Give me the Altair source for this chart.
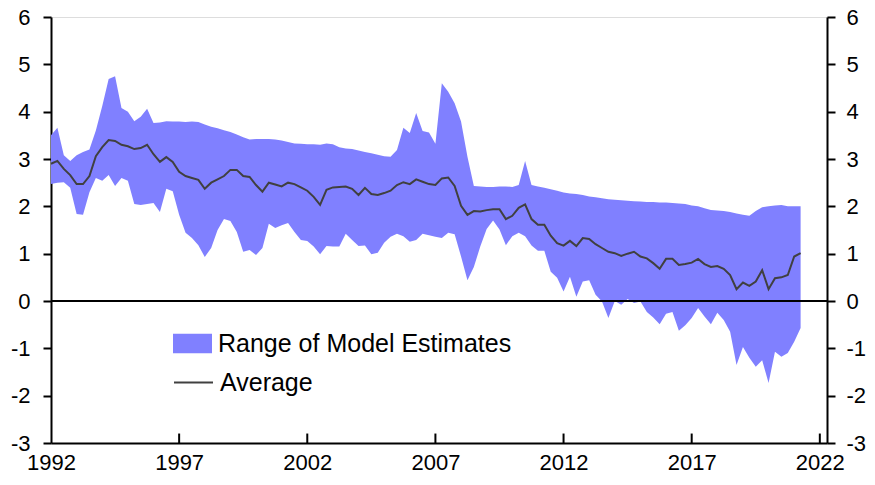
import altair as alt
import pandas as pd

start_year = 1992.0
step = 0.25

upper = [3.5, 3.66, 3.08, 2.96, 3.08, 3.15, 3.2, 3.6, 4.12, 4.69,
         4.75, 4.08, 4.0, 3.8, 3.89, 4.06, 3.76, 3.77, 3.8, 3.79,
         3.79, 3.78, 3.79, 3.78, 3.73, 3.68, 3.65, 3.61, 3.57, 3.52,
         3.46, 3.41, 3.42, 3.42, 3.42, 3.41, 3.39, 3.36, 3.33, 3.32,
         3.31, 3.31, 3.3, 3.33, 3.31, 3.25, 3.22, 3.21, 3.18, 3.15,
         3.12, 3.09, 3.06, 3.05, 3.19, 3.66, 3.55, 3.97, 3.59, 3.56,
         3.32, 4.6, 4.42, 4.18, 3.79, 3.05, 2.43, 2.42, 2.41, 2.41,
         2.42, 2.42, 2.41, 2.45, 2.96, 2.45, 2.42, 2.39, 2.36, 2.33,
         2.29, 2.27, 2.26, 2.24, 2.21, 2.19, 2.17, 2.15, 2.14, 2.13,
         2.12, 2.11, 2.1, 2.09, 2.09, 2.08, 2.08, 2.07, 2.06, 2.05,
         2.02, 2.0, 1.96, 1.92, 1.91, 1.9, 1.88, 1.85, 1.82, 1.8,
         1.9, 1.98, 2.0, 2.02, 2.03, 2.0, 2.0, 2.0]

lower = [2.47, 2.5, 2.51, 2.39, 1.84, 1.82, 2.3, 2.6, 2.54, 2.66,
         2.43, 2.6, 2.54, 2.05, 2.03, 2.05, 2.07, 1.88, 2.37, 2.32,
         1.82, 1.44, 1.33, 1.18, 0.93, 1.12, 1.5, 1.73, 1.69, 1.46,
         1.04, 1.08, 0.97, 1.12, 1.63, 1.54, 1.6, 1.65, 1.46, 1.29,
         1.27, 1.15, 0.99, 1.16, 1.15, 1.15, 1.42, 1.29, 1.16, 1.17,
         0.99, 1.02, 1.23, 1.36, 1.42, 1.37, 1.25, 1.29, 1.42, 1.39,
         1.36, 1.33, 1.44, 1.41, 0.94, 0.44, 0.72, 1.15, 1.52, 1.7,
         1.51, 1.18, 1.37, 1.44, 1.37, 1.17, 1.06, 1.06, 0.62, 0.49,
         0.2, 0.51, 0.09, 0.41, 0.44, 0.13, -0.01, -0.36, 0.0, -0.08,
         0.04, -0.04, -0.01, -0.23, -0.35, -0.49, -0.27, -0.23, -0.63, -0.51,
         -0.36, -0.15, -0.33, -0.49, -0.25, -0.4, -0.65, -1.35, -0.97, -1.2,
         -1.39, -1.25, -1.73, -1.07, -1.18, -1.1, -0.86, -0.57]

average = [2.9, 2.96, 2.79, 2.66, 2.47, 2.47, 2.64, 3.06, 3.25, 3.4,
           3.38, 3.3, 3.27, 3.21, 3.23, 3.3, 3.1, 2.94, 3.04, 2.94,
           2.73, 2.64, 2.6, 2.56, 2.37, 2.5, 2.57, 2.64, 2.77, 2.77,
           2.64, 2.62, 2.45, 2.31, 2.5, 2.46, 2.42, 2.5, 2.47, 2.4,
           2.33, 2.2, 2.03, 2.35, 2.4, 2.41, 2.42, 2.37, 2.24, 2.39,
           2.26, 2.24, 2.28, 2.33, 2.45, 2.51, 2.47, 2.57, 2.52, 2.47,
           2.45, 2.59, 2.61, 2.43, 2.01, 1.82, 1.9, 1.89, 1.92, 1.94,
           1.94, 1.73, 1.8, 1.97, 2.04, 1.73, 1.61, 1.61, 1.38, 1.22,
           1.17, 1.27, 1.16, 1.33, 1.31, 1.2, 1.12, 1.04, 1.01, 0.95,
           1.0, 1.04, 0.94, 0.9, 0.8, 0.68, 0.89, 0.89, 0.76, 0.78,
           0.81, 0.89, 0.78, 0.72, 0.74, 0.68, 0.55, 0.25, 0.39, 0.32,
           0.41, 0.65, 0.25, 0.48, 0.5, 0.55, 0.94, 1.01]

x_ticks = [1992, 1997, 2002, 2007, 2012, 2017, 2022]
y_ticks = [-3, -2, -1, 0, 1, 2, 3, 4, 5, 6]

n = min(len(upper), len(lower), len(average))
df = pd.DataFrame({
    "t": [start_year + step * i for i in range(n)],
    "hi": upper[:n],
    "lo": lower[:n],
    "avg": average[:n],
})
tick_df = pd.DataFrame({"yr": x_ticks[1:], "y0": [-3] * (len(x_ticks) - 1), "y1": [-2.8] * (len(x_ticks) - 1)})

FONT = "Liberation Sans"
xscale = alt.Scale(domain=[1992, 2022.28], nice=False, zero=False)
yscale = alt.Scale(domain=[-3, 6], nice=False, zero=False)

x_axis = alt.Axis(values=x_ticks, format="d", title=None, grid=False, ticks=False,
                  labelFontSize=22, labelFont=FONT, labelColor="black", labelPadding=9,
                  domainColor="black", domainWidth=2, labelFlush=False, labelOverlap=False)
y_axis_left = alt.Axis(values=y_ticks, title=None, grid=False, tickSize=8, tickWidth=2,
                       tickColor="black", domainColor="black", domainWidth=2,
                       labelExpr="'' + datum.value",
                       labelFontSize=22, labelFont=FONT, labelColor="black", labelPadding=13)
y_axis_right = alt.Axis(values=y_ticks, title=None, grid=False, tickSize=8, tickWidth=2,
                        orient="right", tickColor="black", domainColor="black", domainWidth=2,
                        labelExpr="'' + datum.value",
                        labelFontSize=22, labelFont=FONT, labelColor="black", labelPadding=11)

base = alt.Chart(df)

area = base.transform_calculate(k1="'Range of Model Estimates'").mark_area(opacity=1).encode(
    x=alt.X("t:Q", scale=xscale, axis=x_axis),
    y=alt.Y("lo:Q", scale=yscale, axis=y_axis_left),
    y2="hi:Q",
    fill=alt.Fill("k1:N", scale=alt.Scale(domain=["Range of Model Estimates"], range=["#8080FF"]),
                  legend=alt.Legend(orient="none", legendX=122, legendY=307, title=None,
                                    symbolType="M-1,-0.5H1V0.5H-1Z", symbolSize=1521,
                                    symbolStrokeWidth=0, labelFontSize=25, labelFont=FONT,
                                    labelColor="black", labelOffset=6, padding=0, labelLimit=500)),
)

zero = alt.Chart(df).mark_rule(color="black", strokeWidth=2).encode(
    y=alt.YDatum(0, scale=yscale, axis=None)
)

line = base.transform_calculate(k2="'Average'").mark_line(strokeWidth=2).encode(
    x=alt.X("t:Q", scale=xscale),
    y=alt.Y("avg:Q", scale=yscale, axis=None),
    stroke=alt.Stroke("k2:N", scale=alt.Scale(domain=["Average"], range=["#404040"]),
                      legend=alt.Legend(orient="none", legendX=122, legendY=345, title=None,
                                        symbolType="stroke", symbolSize=1521, symbolStrokeWidth=2,
                                        labelFontSize=25, labelFont=FONT, labelColor="black",
                                        labelOffset=6, padding=0, labelLimit=500)),
)

right = base.mark_line(opacity=0).encode(
    x=alt.X("t:Q", scale=xscale),
    y=alt.Y("avg:Q", scale=yscale, axis=y_axis_right),
)

xt = alt.Chart(tick_df).mark_rule(color="black", strokeWidth=2).encode(
    x=alt.X("yr:Q", scale=xscale),
    y=alt.Y("y0:Q", scale=yscale, axis=None),
    y2="y1:Q",
)

chart = alt.layer(area, zero, line, xt, right).resolve_axis(y="independent").properties(
    width=776, height=426,
    padding={"left": 43, "top": 9, "right": 40, "bottom": 30},
    autosize=alt.AutoSizeParams(type="none"),
).configure_view(stroke=None).configure(font=FONT)

chart.save("out.html", embed_options={"renderer": "svg", "actions": False})
